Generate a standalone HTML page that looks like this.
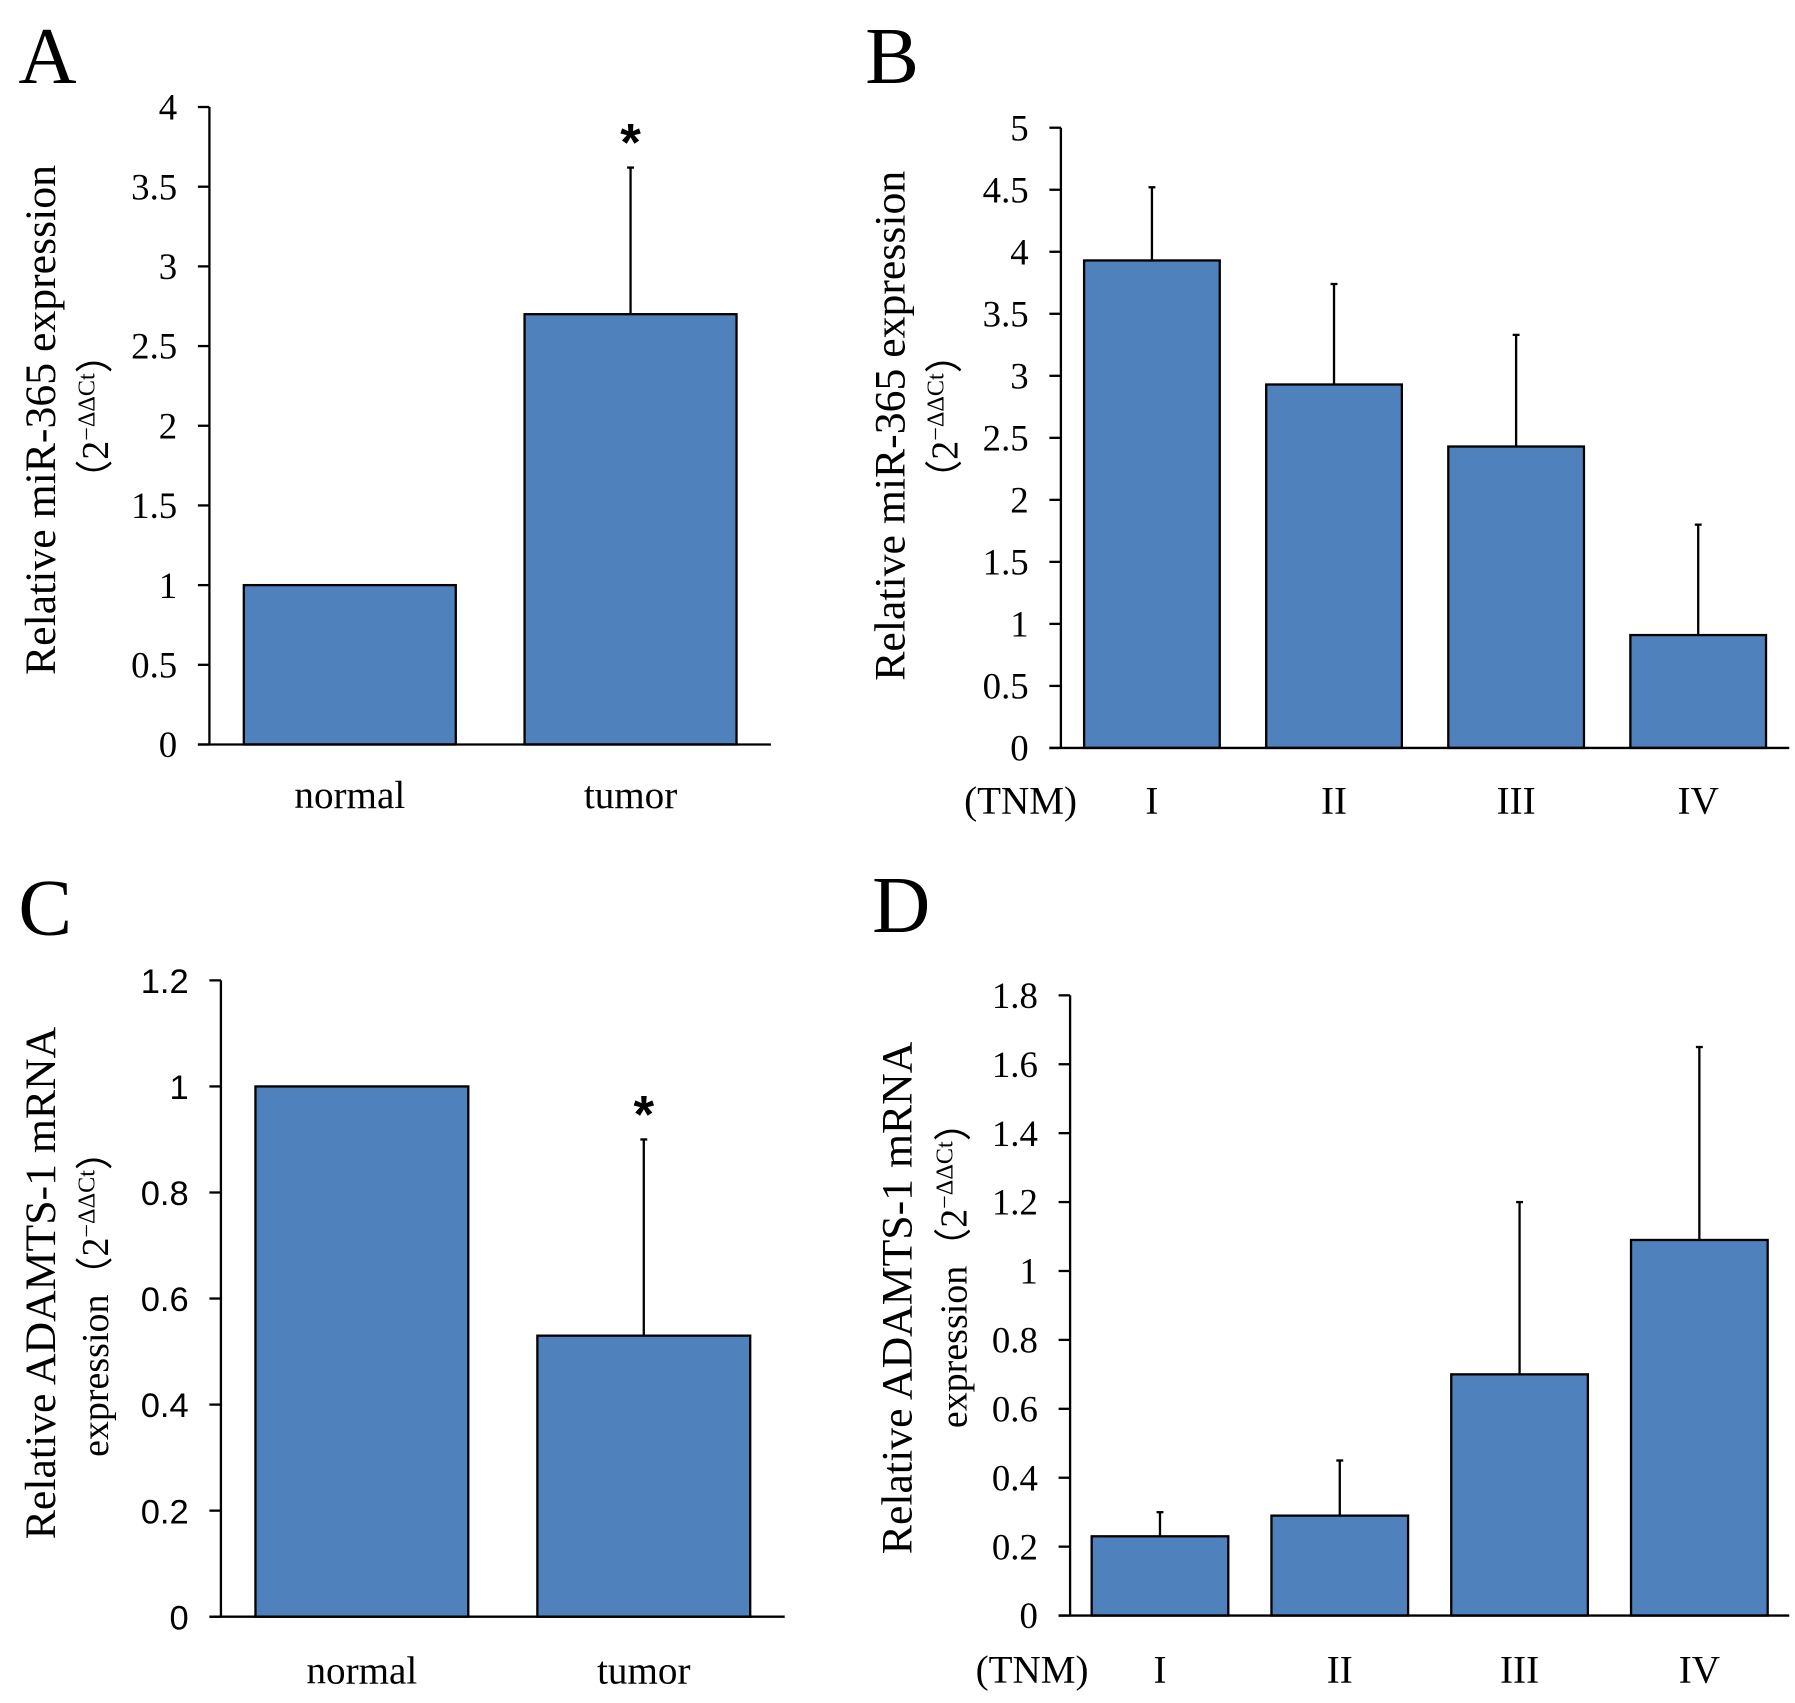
<!DOCTYPE html>
<html><head><meta charset="utf-8"><style>
html,body{margin:0;padding:0;background:#fff;}
svg{display:block;}
</style></head><body>
<svg id="fig" width="1795" height="1703" viewBox="0 0 1560 1480" preserveAspectRatio="none" xmlns="http://www.w3.org/2000/svg" font-family="'Liberation Serif', serif"></svg>
<script>
// Panel A data
const catsA = ["normal","tumor"];
const valsA = [1.0, 2.7];
const errA = [0, 3.62];
const ticksA = ["0","0.5","1","1.5","2","2.5","3","3.5","4"];
// Panel B data
const catsB = ["I","II","III","IV"];
const valsB = [3.93, 2.93, 2.43, 0.91];
const errB = [4.52, 3.74, 3.33, 1.80];
const ticksB = ["0","0.5","1","1.5","2","2.5","3","3.5","4","4.5","5"];
// Panel C data
const catsC = ["normal","tumor"];
const valsC = [1.0, 0.53];
const errC = [0, 0.90];
const ticksC = ["0","0.2","0.4","0.6","0.8","1","1.2"];
// Panel D data
const catsD = ["I","II","III","IV"];
const valsD = [0.23, 0.29, 0.70, 1.09];
const errD = [0.30, 0.45, 1.20, 1.65];
const ticksD = ["0","0.2","0.4","0.6","0.8","1","1.2","1.4","1.6","1.8"];

const NS="http://www.w3.org/2000/svg";
const svg=document.getElementById('fig');
function mk(tag,attrs,parent){const e=document.createElementNS(NS,tag);for(const k in attrs)e.setAttribute(k,attrs[k]);(parent||svg).appendChild(e);return e;}

function panel(o){
  const g=mk('g',{});
  
  
  const ymax=parseFloat(o.ticks[o.ticks.length-1]);
  const y=v=>o.y0-(v/ymax)*(o.y0-o.yTop);
  const n=o.cats.length, slot=(o.xEnd-o.ax)/n;
  const x=i=>o.ax+slot*(i+0.5);
  const L=mk('text',{x:o.lx,y:o.ly,'font-size':70},g); L.textContent=o.letter;
   
  o.vals.forEach((v,i)=>{
    const cx=x(i), w=slot*o.bw;
    if(o.errs[i]>v){
      const l=mk('line',{x1:cx,x2:cx,y1:y(v),y2:y(o.errs[i]),stroke:'#000','stroke-width':2},g);
       
      const c=mk('line',{x1:cx-3,x2:cx+3,y1:y(o.errs[i]),y2:y(o.errs[i]),stroke:'#000','stroke-width':2},g);
       
    }
    const r=mk('rect',{x:cx-w/2,y:y(v),width:w,height:o.y0-y(v),fill:'#4f81bd',stroke:'#000','stroke-width':2},g);
     
    const t=mk('text',{x:cx,y:o.catY,'font-size':34,'text-anchor':'middle'},g); t.textContent=o.cats[i];
     
    if(o.star===i){const s=mk('text',{x:cx,y:y(o.errs[i])-6,'font-size':46,'font-weight':'bold','text-anchor':'middle','font-family':"'Liberation Sans',sans-serif"},g);s.textContent='*';
       }
  });
  const ya=mk('line',{x1:o.ax,x2:o.ax,y1:o.yTop,y2:o.y0,stroke:'#000','stroke-width':2},g);
   
  const xa=mk('line',{x1:o.ax-10,x2:o.xEnd,y1:o.y0,y2:o.y0,stroke:'#000','stroke-width':2},g);
   
  o.ticks.forEach(tk=>{
    const v=parseFloat(tk);
    mk('line',{x1:o.ax-10,x2:o.ax,y1:y(v),y2:y(v),stroke:'#000','stroke-width':2},g);
    const t=mk('text',{x:o.ax-28,y:y(v)+11,'font-size':o.tfs,'text-anchor':'end','font-family':o.tfont},g); t.textContent=tk;
     
  });
  if(o.tnm){const t=mk('text',{x:o.tnm,y:o.catY,'font-size':34,'text-anchor':'middle'},g);t.textContent='(TNM)';
     }
  const t1=mk('text',{x:0,y:0,'font-size':38,'text-anchor':'middle',transform:`translate(${o.t1x},${o.tmid}) rotate(-90)`},g); t1.textContent=o.title1;
   
  const t2=mk('text',{x:0,y:0,'font-size':33,'text-anchor':'middle',transform:`translate(${o.t2x},${o.tmid2}) rotate(-90)`},g);
   
  const a=mk('tspan',{},t2); a.textContent=o.title2+'（2';
  const b=mk('tspan',{'font-size':21,dy:-12},t2); b.textContent='−ΔΔCt';
  const c=mk('tspan',{dy:12},t2); c.textContent='）';
}
panel({name:'panel-a',letter:'A',lx:16,ly:72,cats:catsA,vals:valsA,errs:errA,ticks:ticksA,ax:182,xEnd:670,y0:647,yTop:93,bw:0.755,catY:702,star:1,tfs:32,tfont:"'Liberation Serif',serif",t1x:48,t2x:94,tmid:365,tmid2:362,title1:'Relative miR-365 expression',title2:''});
panel({name:'panel-b',letter:'B',lx:752,ly:72,cats:catsB,vals:valsB,errs:errB,ticks:ticksB,ax:922,xEnd:1555,y0:650,yTop:111,bw:0.745,catY:707,tnm:887,tfs:32,tfont:"'Liberation Serif',serif",t1x:786,t2x:832,tmid:370,tmid2:362,title1:'Relative miR-365 expression',title2:''});
panel({name:'panel-c',letter:'C',lx:16,ly:812,cats:catsC,vals:valsC,errs:errC,ticks:ticksC,ax:192,xEnd:682,y0:1405,yTop:852,bw:0.755,catY:1463,star:1,tfs:30,tfont:"'Liberation Sans',sans-serif",t1x:48,t2x:94,tmid:1115,tmid2:1125,title1:'Relative ADAMTS-1 mRNA',title2:'expression'});
panel({name:'panel-d',letter:'D',lx:758,ly:810,cats:catsD,vals:valsD,errs:errD,ticks:ticksD,ax:930,xEnd:1555,y0:1404,yTop:865,bw:0.76,catY:1462,tnm:897,tfs:32,tfont:"'Liberation Serif',serif",t1x:792,t2x:840,tmid:1128,tmid2:1100,title1:'Relative ADAMTS-1 mRNA',title2:'expression'});
</script>
</body></html>
